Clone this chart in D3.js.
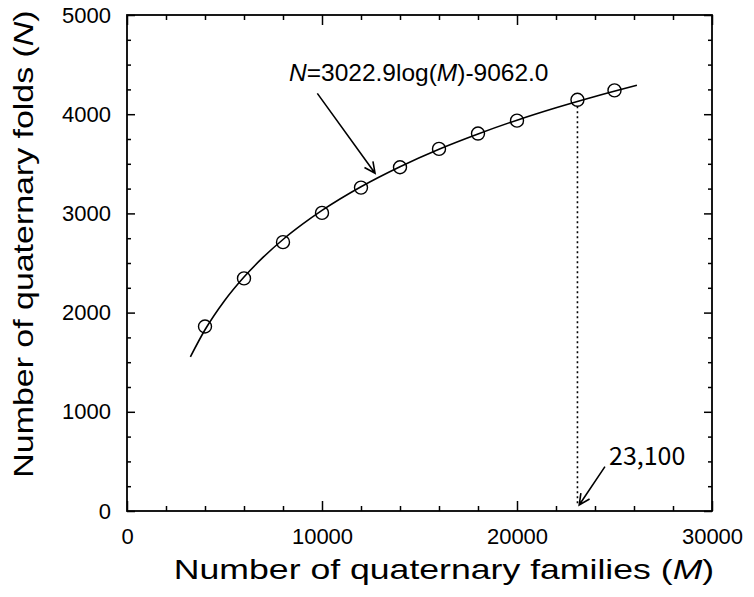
<!DOCTYPE html>
<html>
<head>
<meta charset="utf-8">
<script src="https://cdn.jsdelivr.net/npm/d3@7"></script>
<style>
  body { margin: 0; background: #fff; }
  svg text { font-family: "Liberation Sans", Arial, sans-serif; fill: #000; }
</style>
</head>
<body>
<svg width="754" height="597"></svg>
<script>
// observed points (M, N)
var families = [4000, 6000, 8000, 10000, 12000, 14000, 16000, 18000, 20000, 23100, 25000];
var folds = [1860, 2345, 2710, 3005, 3260, 3465, 3650, 3805, 3935, 4145, 4240];

// fitted curve
var fitM = [3250, 4000, 5000, 6000, 7000, 8000, 9000, 10000, 12000, 14000, 16000, 18000, 20000, 22000, 24000, 26150];
var fitN = [1554, 1827, 2120, 2359, 2561, 2737, 2891, 3030, 3269, 3471, 3647, 3801, 3940, 4065, 4179, 4292];

var xMajor = [0, 10000, 20000, 30000];
var yMajor = [0, 1000, 2000, 3000, 4000, 5000];

var svg = d3.select("svg"),
  pLeft = 127, pRight = 712, pTop = 15, pBottom = 511;

var x = d3.scaleLinear().domain([0, 30000]).range([pLeft, pRight]);
var y = d3.scaleLinear().domain([0, 5000]).range([pBottom, pTop]);

var xMinor = d3.range(0, 30001, 2000).filter(function(v) { return v % 10000 != 0; });
var yMinor = d3.range(0, 5001, 250).filter(function(v) { return v % 1000 != 0; });

function styleAxis(g) {
  g.attr("font-size", 22).attr("font-family", "Liberation Sans, Arial, sans-serif");
  g.select(".domain").remove();
  g.selectAll(".tick line").attr("stroke", "#000").attr("stroke-width", 1.5);
}

// bottom
svg.append("g").attr("transform", "translate(0," + pBottom + ")")
  .call(d3.axisBottom(x).tickValues(xMajor).tickSize(-10).tickPadding(17).tickFormat(d3.format("d")))
  .call(styleAxis);
svg.append("g").attr("transform", "translate(0," + pBottom + ")")
  .call(d3.axisBottom(x).tickValues(xMinor).tickSize(-5).tickFormat(""))
  .call(styleAxis);
// top
svg.append("g").attr("transform", "translate(0," + pTop + ")")
  .call(d3.axisTop(x).tickValues(xMajor).tickSize(-10).tickFormat(""))
  .call(styleAxis);
svg.append("g").attr("transform", "translate(0," + pTop + ")")
  .call(d3.axisTop(x).tickValues(xMinor).tickSize(-5).tickFormat(""))
  .call(styleAxis);
// left
svg.append("g").attr("transform", "translate(" + pLeft + ",0)")
  .call(d3.axisLeft(y).tickValues(yMajor).tickSize(-8).tickPadding(16).tickFormat(d3.format("d")))
  .call(styleAxis);
svg.append("g").attr("transform", "translate(" + pLeft + ",0)")
  .call(d3.axisLeft(y).tickValues(yMinor).tickSize(-4).tickFormat(""))
  .call(styleAxis);
// right
svg.append("g").attr("transform", "translate(" + pRight + ",0)")
  .call(d3.axisRight(y).tickValues(yMajor).tickSize(-8).tickFormat(""))
  .call(styleAxis);
svg.append("g").attr("transform", "translate(" + pRight + ",0)")
  .call(d3.axisRight(y).tickValues(yMinor).tickSize(-4).tickFormat(""))
  .call(styleAxis);

// frame
svg.append("rect")
  .attr("x", pLeft).attr("y", pTop)
  .attr("width", pRight - pLeft).attr("height", pBottom - pTop)
  .attr("fill", "none").attr("stroke", "#000").attr("stroke-width", 1.8);

// fit line
var line = d3.line()
  .x(function(d) { return x(d[0]); })
  .y(function(d) { return y(d[1]); })
  .curve(d3.curveMonotoneX);

svg.append("path")
  .datum(fitM.map(function(m, i) { return [m, fitN[i]]; }))
  .attr("d", line)
  .attr("fill", "none")
  .attr("stroke", "#000")
  .attr("stroke-width", 1.6);

// dotted drop line at 23,100
svg.append("line")
  .attr("x1", x(23100)).attr("x2", x(23100))
  .attr("y1", y(4145) + 6.5).attr("y2", y(60))
  .attr("stroke", "#000")
  .attr("stroke-width", 1.6)
  .attr("stroke-dasharray", "2,3");

// points
svg.append("g")
  .selectAll("circle")
  .data(families)
  .enter().append("circle")
  .attr("cx", function(d) { return x(d); })
  .attr("cy", function(d, i) { return y(folds[i]); })
  .attr("r", 6.5)
  .attr("fill", "none")
  .attr("stroke", "#000")
  .attr("stroke-width", 1.4);

// open arrows
function arrow(m0, n0, m1, n1) {
  var x0 = x(m0), y0 = y(n0), x1 = x(m1), y1 = y(n1);
  var a = Math.atan2(y1 - y0, x1 - x0), len = 12, spread = 0.45;
  var p = "M" + x0 + "," + y0 + "L" + x1 + "," + y1 +
    "M" + (x1 - len * Math.cos(a - spread)) + "," + (y1 - len * Math.sin(a - spread)) +
    "L" + x1 + "," + y1 +
    "L" + (x1 - len * Math.cos(a + spread)) + "," + (y1 - len * Math.sin(a + spread));
  svg.append("path").attr("d", p)
    .attr("fill", "none").attr("stroke", "#000").attr("stroke-width", 1.6);
}
arrow(9760, 4210, 12720, 3405);
arrow(24510, 447, 23190, 60);

// equation label
var eq = svg.append("text")
  .attr("x", x(8308)).attr("y", y(4335))
  .attr("font-size", 24.5);
eq.append("tspan").attr("font-style", "italic").text("N");
eq.append("tspan").text("=3022.9log(");
eq.append("tspan").attr("font-style", "italic").text("M");
eq.append("tspan").text(")-9062.0");

svg.append("text")
  .attr("x", x(24720)).attr("y", y(464))
  .attr("font-size", 25)
  .style("font-family", "'Noto Sans CJK KR', 'Noto Sans', sans-serif")
  .text("23,100");

// axis titles
var xt = svg.append("text")
  .attr("transform", "translate(444,579) scale(1.25,1)")
  .attr("text-anchor", "middle")
  .attr("font-size", 28.5);
xt.append("tspan").text("Number of quaternary families (");
xt.append("tspan").attr("font-style", "italic").text("M");
xt.append("tspan").text(")");

var yt = svg.append("text")
  .attr("transform", "translate(33,244) rotate(-90) scale(1.19,1)")
  .attr("text-anchor", "middle")
  .attr("font-size", 28.5);
yt.append("tspan").text("Number of quaternary folds (");
yt.append("tspan").attr("font-style", "italic").text("N");
yt.append("tspan").text(")");
</script>
</body>
</html>
